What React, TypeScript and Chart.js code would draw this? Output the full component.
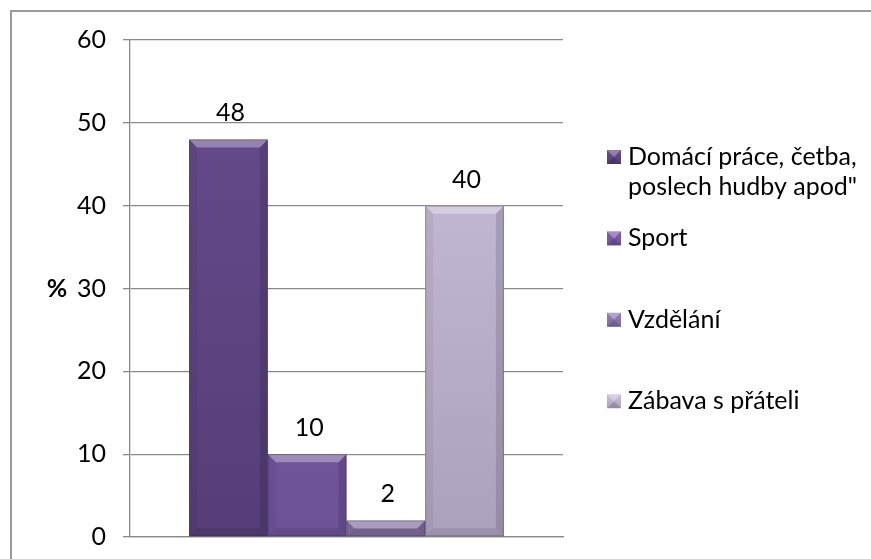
import React, { useEffect, useRef } from "react";
import { Chart, registerables } from "chart.js";

Chart.register(...registerables);

const categories = [""];
const seriesNames = [
  'Domácí práce, četba, poslech hudby apod"',
  "Sport",
  "Vzdělání",
  "Zábava s přáteli",
];
const seriesValues = [48, 10, 2, 40];
const seriesTop = ["#684c8e", "#7f5eae", "#947eb8", "#cac1dd"];
const seriesBottom = ["#553e77", "#6c5296", "#806c9e", "#aca1bd"];
const yTicks = [0, 10, 20, 30, 40, 50, 60];

const FONT = "Lato, 'Open Sans', sans-serif";
const FS = 25;

export default function App() {
  const ref = useRef<HTMLCanvasElement | null>(null);

  useEffect(() => {
    const canvas = ref.current;
    if (!canvas) return;

    const bevelPlugin = {
      id: "bevel",
      afterDatasetsDraw(chart: any) {
        const ctx = chart.ctx;
        chart.data.datasets.forEach((_: any, di: number) => {
          const meta = chart.getDatasetMeta(di);
          meta.data.forEach((bar: any) => {
            const { x, y, base, width } = bar.getProps(["x", "y", "base", "width"], true);
            const l = x - width / 2, r = x + width / 2, t = y, b = base;
            const bv = Math.min(8, (b - t) / 2);
            ctx.save();
            ctx.fillStyle = "rgba(255,255,255,0.32)";
            ctx.beginPath();
            ctx.moveTo(l, t); ctx.lineTo(r, t); ctx.lineTo(r - bv, t + bv); ctx.lineTo(l + bv, t + bv); ctx.closePath();
            ctx.fill();
            ctx.fillStyle = "rgba(0,0,0,0.10)";
            ctx.beginPath();
            ctx.moveTo(l, b); ctx.lineTo(r, b); ctx.lineTo(r - bv, b - bv); ctx.lineTo(l + bv, b - bv); ctx.closePath();
            ctx.fill();
            ctx.fillStyle = "rgba(0,0,0,0.05)";
            ctx.beginPath();
            ctx.moveTo(l, t); ctx.lineTo(l + bv, t + bv); ctx.lineTo(l + bv, b - bv); ctx.lineTo(l, b); ctx.closePath();
            ctx.fill();
            ctx.fillStyle = "rgba(0,0,0,0.13)";
            ctx.beginPath();
            ctx.moveTo(r, t); ctx.lineTo(r - bv, t + bv); ctx.lineTo(r - bv, b - bv); ctx.lineTo(r, b); ctx.closePath();
            ctx.fill();
            ctx.strokeStyle = "rgba(40,25,60,0.3)";
            ctx.lineWidth = 1;
            ctx.strokeRect(l + 0.5, t + 0.5, width - 1, b - t - 1);
            ctx.restore();
          });
        });
      },
    };

    const labelPlugin = {
      id: "valueLabels",
      afterDatasetsDraw(chart: any) {
        const ctx = chart.ctx;
        ctx.save();
        ctx.font = `${FS}px ${FONT}`;
        ctx.fillStyle = "#000";
        ctx.textAlign = "center";
        ctx.textBaseline = "middle";
        chart.data.datasets.forEach((ds: any, di: number) => {
          const meta = chart.getDatasetMeta(di);
          meta.data.forEach((bar: any, i: number) => {
            ctx.fillText(String(ds.data[i]), bar.x + 2, bar.y - 26);
          });
        });
        ctx.restore();
      },
    };

    const extrasPlugin = {
      id: "extras",
      afterDraw(chart: any) {
        const ctx = chart.ctx;
        ctx.save();
        ctx.font = `bold ${FS}px ${FONT}`;
        ctx.fillStyle = "#000";
        ctx.textAlign = "center";
        ctx.textBaseline = "middle";
        ctx.fillText("%", 57, chart.scales.y.getPixelForValue(30));
        ctx.font = `${FS}px ${FONT}`;
        ctx.textAlign = "left";
        const maxW = 240;
        const startY = 157;
        const step = 81.4;
        seriesNames.forEach((name, i) => {
          const words = name.split(" ");
          const lines: string[] = [];
          let cur = "";
          words.forEach((w) => {
            const test = cur ? cur + " " + w : w;
            if (ctx.measureText(test).width > maxW && cur) {
              lines.push(cur);
              cur = w;
            } else cur = test;
          });
          if (cur) lines.push(cur);
          const y = startY + i * step;
          const mx = 607, ms = 14;
          const g = ctx.createLinearGradient(0, y - ms / 2, 0, y + ms / 2);
          g.addColorStop(0, seriesTop[i]);
          g.addColorStop(1, seriesBottom[i]);
          ctx.fillStyle = g;
          ctx.fillRect(mx, y - ms / 2, ms, ms);
          ctx.fillStyle = "rgba(255,255,255,0.3)";
          ctx.beginPath();
          ctx.moveTo(mx, y - ms / 2); ctx.lineTo(mx + ms, y - ms / 2); ctx.lineTo(mx + ms / 2, y); ctx.closePath();
          ctx.fill();
          ctx.fillStyle = "rgba(0,0,0,0.15)";
          ctx.beginPath();
          ctx.moveTo(mx, y + ms / 2); ctx.lineTo(mx + ms, y + ms / 2); ctx.lineTo(mx + ms / 2, y); ctx.closePath();
          ctx.fill();
          ctx.fillStyle = "#000";
          lines.forEach((ln, li) => ctx.fillText(ln, 628, y + li * 30));
        });
        ctx.restore();
      },
    };

    const chart = new Chart(canvas, {
      type: "bar",
      data: {
        labels: categories,
        datasets: seriesNames.map((name, i) => ({
          label: name,
          data: [seriesValues[i]],
          backgroundColor: (c: any) => {
            const area = c.chart.chartArea;
            if (!area) return seriesTop[i];
            const g = c.chart.ctx.createLinearGradient(0, area.top, 0, area.bottom);
            g.addColorStop(0, seriesTop[i]);
            g.addColorStop(1, seriesBottom[i]);
            return g;
          },
          borderWidth: 0,
          categoryPercentage: 0.727,
          barPercentage: 1,
        })),
      },
      options: {
        responsive: false,
        animation: false,
        devicePixelRatio: 1,
        layout: { padding: { top: 40, right: 308, bottom: 22, left: 0 } },
        plugins: { legend: { display: false }, tooltip: { enabled: false } },
        scales: {
          x: {
            grid: { display: false },
            ticks: { display: false },
            border: { display: true, color: "#888", width: 1.3 },
            afterFit: (s: any) => { s.height = 0; s.paddingLeft = 0; s.paddingRight = 0; },
          },
          y: {
            min: 0,
            max: 60,
            afterBuildTicks: (s: any) => { s.ticks = yTicks.map((v) => ({ value: v })); },
            ticks: { font: { family: FONT, size: FS }, color: "#000", padding: 17 },
            grid: { color: "#8a8a8a", lineWidth: 1.3, tickLength: 7 },
            border: { color: "#8a8a8a", width: 1.3 },
            afterFit: (s: any) => { s.width = 130; s.paddingTop = 0; s.paddingBottom = 0; },
          },
        },
      },
      plugins: [bevelPlugin, labelPlugin, extrasPlugin],
    });
    return () => chart.destroy();
  }, []);

  return (
    <div style={{ position: "fixed", left: 0, top: 0, width: 871, height: 559, overflow: "hidden", background: "#fff" }}>
      <div style={{ position: "absolute", left: 10, top: 10, width: 900, height: 600, border: "2px solid #9a9a9a" }} />
      <canvas ref={ref} width={871} height={559} style={{ position: "absolute", left: 0, top: 0, width: 871, height: 559 }} />
    </div>
  );
}
